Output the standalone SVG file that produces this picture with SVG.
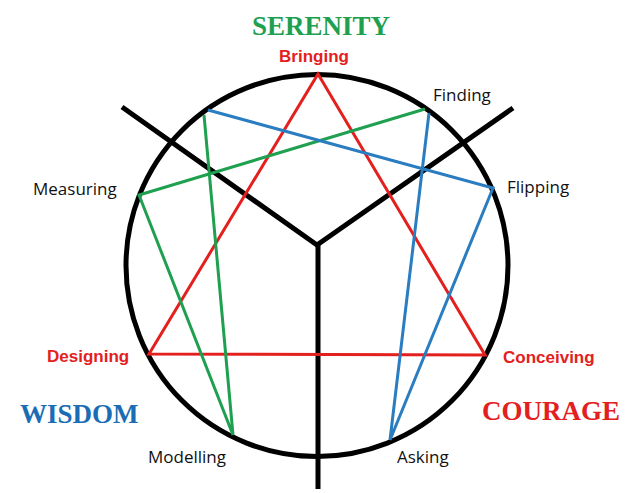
<svg xmlns="http://www.w3.org/2000/svg" width="640" height="493" viewBox="0 0 640 493">
<style>
.blk{fill:none;stroke:#000;stroke-width:5;stroke-linecap:butt}
.red{fill:none;stroke:#E3201E;stroke-width:3;stroke-linejoin:miter}
.grn{fill:none;stroke:#1FA050;stroke-width:3}
.blu{fill:none;stroke:#2A7DC0;stroke-width:3}
.lbl{font-family:"Open Sans","Liberation Sans",sans-serif;font-size:17px;fill:#111}
.rlbl{font-family:"Liberation Sans",Arial,sans-serif;font-size:17px;font-weight:bold;fill:#E3201E}
.big{font-family:"Liberation Serif","Times New Roman",serif;font-size:27px;font-weight:bold}
</style>
<rect width="640" height="493" fill="#fff"/>
<g id="connectors">
<circle class="blk" cx="317" cy="265.5" r="191"/>
<polyline class="blk" points="122,107 317,245 513,108"/>
<line class="blk" x1="318" y1="245" x2="318" y2="489"/>
<polygon class="red" points="318,74 485,355 149,354"/>
<polyline class="grn" points="425,109 139,195 233,435 204,115"/>
<polyline class="blu" points="208,110 493,188 390,440 429,113"/>
</g>
<g id="serenity"><text class="big" x="321" y="35" text-anchor="middle" fill="#1FA050" font-size="28">SERENITY</text></g>
<g id="wisdom"><text class="big" x="20" y="423" fill="#1A6DB5">WISDOM</text></g>
<g id="courage"><text class="big" x="482" y="420" fill="#E3201E">COURAGE</text></g>
<g id="bringing"><text class="rlbl" x="314" y="62" text-anchor="middle">Bringing</text></g>
<g id="finding"><text class="lbl" x="433" y="101">Finding</text></g>
<g id="flipping"><text class="lbl" x="507" y="193">Flipping</text></g>
<g id="measuring"><text class="lbl" x="33" y="195">Measuring</text></g>
<g id="designing"><text class="rlbl" x="47" y="362">Designing</text></g>
<g id="conceiving"><text class="rlbl" x="503" y="363">Conceiving</text></g>
<g id="modelling"><text class="lbl" x="148" y="463">Modelling</text></g>
<g id="asking"><text class="lbl" x="397" y="463">Asking</text></g>
</svg>
